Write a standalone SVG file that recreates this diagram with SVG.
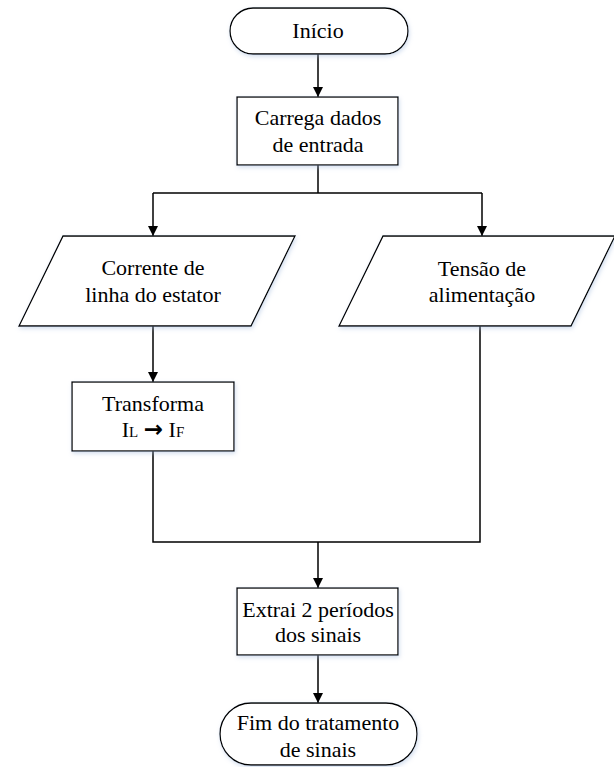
<svg xmlns="http://www.w3.org/2000/svg" width="614" height="767" viewBox="0 0 614 767">
  <style>
    .shape { fill: #ffffff; stroke: #000000; stroke-width: 1.3; filter: url(#soft); }
    .wire { fill: none; stroke: #000000; stroke-width: 1.5; }
    .lbl { font-size: 22px; fill: #000000; text-anchor: middle; }
    .sc { font-size: 15px; }
  </style>
  <defs>
    <marker id="arrow" viewBox="0 0 10 10" refX="10" refY="5" markerWidth="10" markerHeight="10" markerUnits="userSpaceOnUse" orient="auto">
      <path d="M0,0 L10,5 L0,10 Z" fill="#000000"/>
    </marker>
    <filter id="soft" x="-10%" y="-10%" width="125%" height="130%">
      <feDropShadow dx="1" dy="2" stdDeviation="2" flood-color="#9fb8dc" flood-opacity="0.45"/>
    </filter>
  </defs>

  <!-- connectors -->
  <g id="connectors">
    <path class="wire" d="M318,54 V97" marker-end="url(#arrow)"/>
    <path class="wire" d="M318,165 V193"/>
    <path class="wire" d="M153,193 H482"/>
    <path class="wire" d="M153,193 V236" marker-end="url(#arrow)"/>
    <path class="wire" d="M482,193 V236" marker-end="url(#arrow)"/>
    <path class="wire" d="M153,326 V382" marker-end="url(#arrow)"/>
    <path class="wire" d="M153,451 V542 H480 V326"/>
    <path class="wire" d="M318,542 V588" marker-end="url(#arrow)"/>
    <path class="wire" d="M318,655 V703" marker-end="url(#arrow)"/>
  </g>

  <g font-family="Liberation Serif, Times New Roman, serif">
    <!-- start terminator -->
    <g id="inicio">
      <rect class="shape" x="230" y="8" width="178" height="46" rx="23" ry="23"/>
      <text class="lbl" x="318" y="38">Início</text>
    </g>

    <!-- input loading -->
    <g id="carrega">
      <rect class="shape" x="237" y="97" width="161" height="68"/>
      <text class="lbl" x="318" y="125">Carrega dados</text>
      <text class="lbl" x="318" y="152">de entrada</text>
    </g>

    <!-- stator line current -->
    <g id="corrente">
      <polygon class="shape" points="63,236 295,236 251,326 19,326"/>
      <text class="lbl" x="153" y="275">Corrente de</text>
      <text class="lbl" x="153" y="302">linha do estator</text>
    </g>

    <!-- supply voltage -->
    <g id="tensao">
      <polygon class="shape" points="383,236 615,236 571,326 339,326"/>
      <text class="lbl" x="482" y="276">Tensão de</text>
      <text class="lbl" x="482" y="302">alimentação</text>
    </g>

    <!-- line-to-phase transform -->
    <g id="transforma">
      <rect class="shape" x="72" y="382" width="162" height="69"/>
      <text class="lbl" x="153" y="411">Transforma</text>
      <text class="lbl" x="153" y="437">I<tspan class="sc">L</tspan> <tspan font-family="DejaVu Sans, sans-serif" font-weight="bold" font-size="23px">→</tspan> I<tspan class="sc">F</tspan></text>
    </g>

    <!-- period extraction -->
    <g id="extrai">
      <rect class="shape" x="237" y="588" width="161" height="67"/>
      <text class="lbl" x="318" y="617">Extrai 2 períodos</text>
      <text class="lbl" x="318" y="642">dos sinais</text>
    </g>

    <!-- end terminator -->
    <g id="fim">
      <rect class="shape" x="220" y="703" width="197" height="62" rx="31" ry="31"/>
      <text class="lbl" x="318" y="730">Fim do tratamento</text>
      <text class="lbl" x="318" y="757">de sinais</text>
    </g>
  </g>
</svg>
